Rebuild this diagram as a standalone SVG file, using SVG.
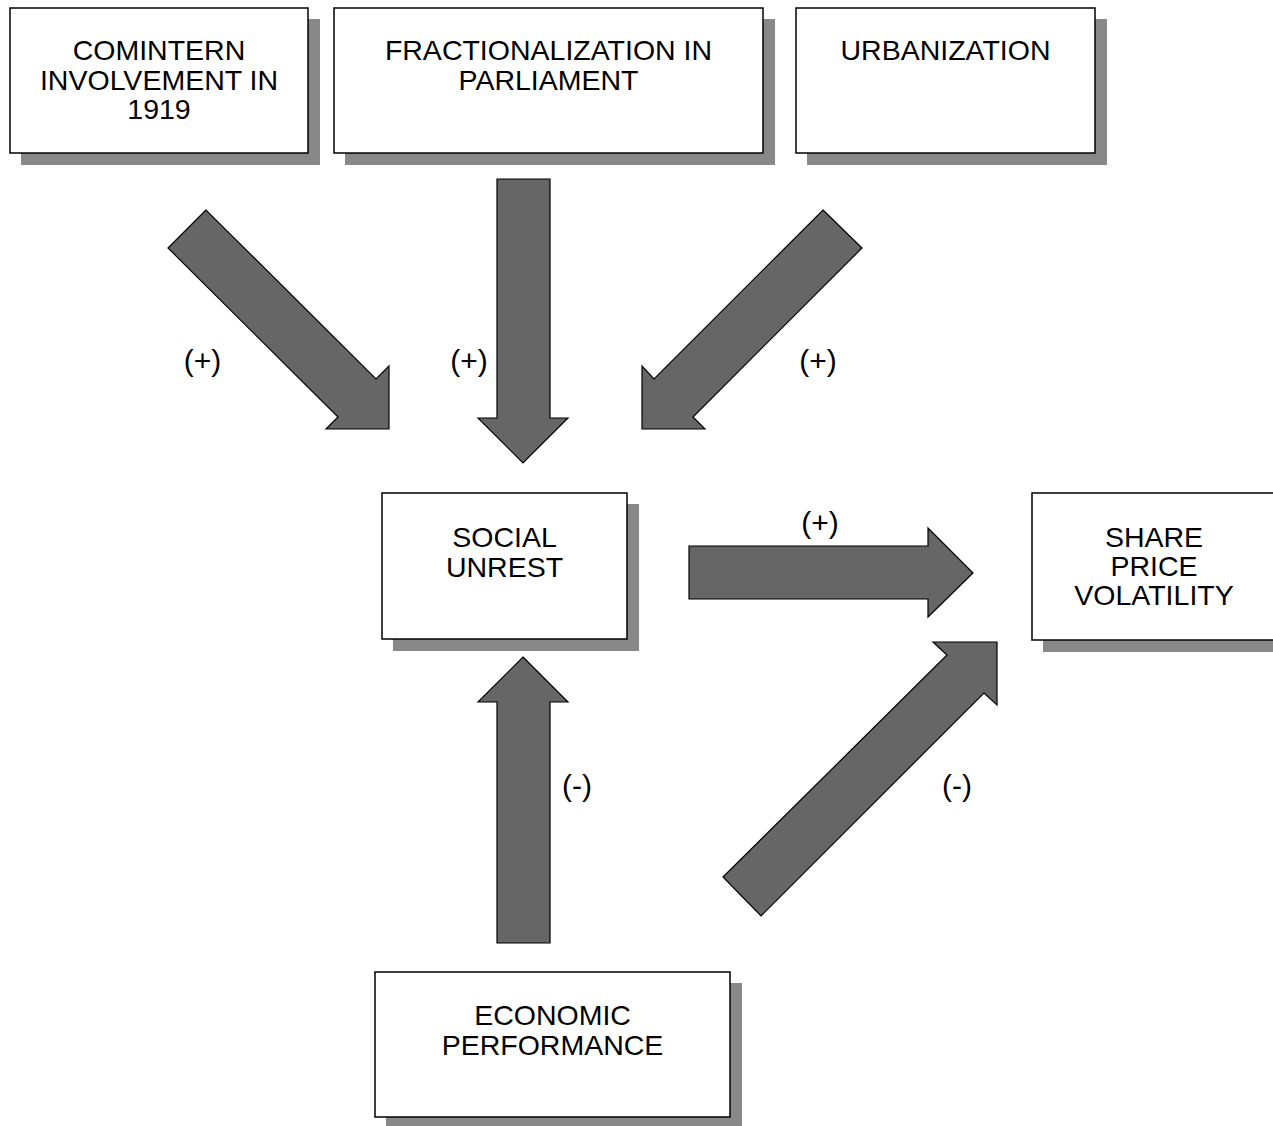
<svg xmlns="http://www.w3.org/2000/svg" width="1273" height="1126" viewBox="0 0 1273 1126">
<style>
.shadow{fill:#888888;stroke:none}
.box{fill:#ffffff;stroke:#000000;stroke-width:1.5}
.arrow{fill:#666666;stroke:#000000;stroke-width:1.2;stroke-linejoin:miter}
text{font-family:"Liberation Sans",Arial,sans-serif;font-size:28.5px;fill:#000000;text-anchor:middle}
.lbl{font-size:30px}
</style>
<rect width="1273" height="1126" fill="#ffffff"/>
<g id="comintern">
<rect class="shadow" x="21" y="19" width="299" height="146"/>
<rect class="box" x="10" y="8" width="298" height="145"/>
<text x="159" y="60">COMINTERN</text>
<text x="159" y="89.5">INVOLVEMENT IN</text>
<text x="159" y="118.5">1919</text>
</g>
<g id="fractionalization">
<rect class="shadow" x="345" y="19" width="430" height="146"/>
<rect class="box" x="334" y="8" width="429" height="145"/>
<text x="548.5" y="60">FRACTIONALIZATION IN</text>
<text x="548.5" y="89.5">PARLIAMENT</text>
</g>
<g id="urbanization">
<rect class="shadow" x="807" y="19" width="300" height="146"/>
<rect class="box" x="796" y="8" width="299" height="145"/>
<text x="945.5" y="60">URBANIZATION</text>
</g>
<g id="social-unrest">
<rect class="shadow" x="393" y="504" width="246" height="147"/>
<rect class="box" x="382" y="493" width="245" height="146"/>
<text x="504.5" y="547">SOCIAL</text>
<text x="504.5" y="576.5">UNREST</text>
</g>
<g id="share-price-volatility">
<rect class="shadow" x="1043" y="504" width="246" height="148"/>
<rect class="box" x="1032" y="493" width="245" height="147"/>
<text x="1154" y="547">SHARE</text>
<text x="1154" y="576">PRICE</text>
<text x="1154" y="605">VOLATILITY</text>
</g>
<g id="economic-performance">
<rect class="shadow" x="386" y="983" width="356" height="146"/>
<rect class="box" x="375" y="972" width="355" height="145"/>
<text x="552.5" y="1025">ECONOMIC</text>
<text x="552.5" y="1055">PERFORMANCE</text>
</g>
<g id="connectors">
<polygon class="arrow" points="206,210 168,248 338,417 326,429 389,429 389,366 376,379"/>
<polygon class="arrow" points="497,179 550,179 550,418 568,418 523,463 478,418 497,418"/>
<polygon class="arrow" points="823,210 862,248 693,417 705,429 642,429 642,366 654,379"/>
<polygon class="arrow" points="689,546 928,546 928,528 973,573 928,617 928,599 689,599"/>
<polygon class="arrow" points="723,877 947,655 933,642 997,642 997,705 984,693 761,916"/>
<polygon class="arrow" points="523,657 568,702 550,702 550,943 497,943 497,702 478,702"/>
<text class="lbl" x="202.5" y="371">(+)</text>
<text class="lbl" x="469" y="371">(+)</text>
<text class="lbl" x="818" y="371">(+)</text>
<text class="lbl" x="820" y="533">(+)</text>
<text class="lbl" x="577" y="796">(-)</text>
<text class="lbl" x="957" y="796">(-)</text>
</g>
</svg>
